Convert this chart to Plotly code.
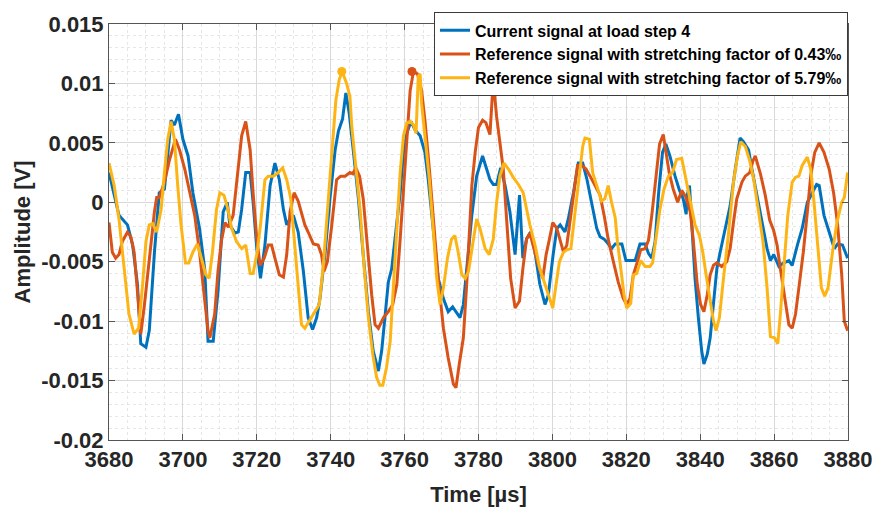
import numpy as np
import plotly.graph_objects as go

# Time axis samples [µs] and amplitudes [mV] for each signal
t_current = [3680, 3682.7, 3685, 3686.4, 3687.7, 3688.6, 3690, 3690.9, 3692.3, 3693.6, 3695, 3696.4, 3696.8, 3697.7,
             3698.8, 3700, 3701.4, 3702.7, 3704.5, 3705.9, 3706.8, 3708.2, 3709.5, 3710.9, 3712, 3712.7, 3714.1, 3715,
             3715.9, 3717, 3718.2, 3719, 3720, 3721, 3722.2, 3723.6, 3724.9, 3726.1, 3727.2, 3728.1, 3729, 3729.9,
             3731.2, 3732.6, 3733.9, 3735.1, 3736.2, 3737.1, 3738.5, 3739.8, 3741.2, 3742.1, 3743.2, 3744.1, 3745.0,
             3746.1, 3747.5, 3748.8, 3750.2, 3751.5, 3752.9, 3753.8, 3754.7, 3755.6, 3756.5, 3757.4, 3758.8, 3759.7,
             3760.6, 3761.7, 3762.8, 3764.2, 3765.5, 3766.4, 3767.8, 3769.1, 3770.5, 3771.8, 3773, 3774.1, 3775,
             3775.9, 3776.8, 3778.2, 3779.5, 3781.1, 3782.2, 3783.1, 3784, 3784.9, 3786, 3787.2, 3788.5, 3789.9,
             3791.1, 3792, 3793, 3794.1, 3795.3, 3796.6, 3798, 3798.9, 3800.2, 3801.2, 3802.1, 3803.4, 3804.3,
             3805.7, 3807, 3808.2, 3809.3, 3810.2, 3811.1, 3812, 3812.9, 3814, 3815.1, 3816, 3817, 3818.8, 3819.9,
             3822.4, 3823.7, 3825.1, 3826, 3826.9, 3827.8, 3828.7, 3829.8, 3830.7, 3831.8, 3833.2, 3834.4, 3835.4,
             3836.2, 3836.5, 3837.1, 3837.7, 3838.6, 3839.5, 3840.4, 3841, 3841.9, 3842.7, 3843.6, 3844.5, 3845.4,
             3846.7, 3848.1, 3849.5, 3850.8, 3851.7, 3853.1, 3854, 3855.4, 3856.7, 3858.1, 3859, 3859.9, 3861.3,
             3862.6, 3864, 3864.9, 3866.3, 3867.6, 3869, 3870.4, 3871.5, 3872.2, 3873.5, 3874.9, 3876.3, 3877.2,
             3878.5, 3879.9]
a_current = [2.5, -1.1, -1.9, -3.6, -6.9, -11.9, -12.2, -10.8, -4.2, 0.8, 1.1, 5.3, 6.9, 6.5,
             7.4, 5.3, 3.9, 0.8, -2.2, -5.6, -11.7, -11.7, -7.5, -0.8, 0, -1.9, -2.6, -2.5,
             -0.6, 2.5, 2.5, 0, -3.9, -6.4, -3.6, 1.4, 3.3, 1.9, -0.6, -1.9, -1.4, -1.1,
             -2.5, -5.8, -9.7, -10.7, -9.7, -8.1, -4.2, 0.3, 4.4, 6.0, 7.0, 9.2, 7.5,
             4.4, 0.3, -4.4, -9.2, -12.5, -14.2, -12.5, -9.7, -6.7, -5.6, -3.1, 0.8, 4.2,
             5.8, 6.8, 6.1, 5.6, 4.2, 1.9, -2.2, -6.4, -8.1, -9.2, -8.8, -9.3, -9.7,
             -8.6, -5.6, -1.1, 2.2, 3.9, 2.8, 1.9, 1.5, 1.5, 2.9, 1.4, -0.8, -4.4,
             0.6, -4.7, -3.1, -2.5, -4.2, -6.9, -8.6, -7.8, -4.4, -2.2, -1.9, -2.5, -1.4,
             0.8, 3.3, 3.3, 2.0, 0.5, -0.8, -2.2, -2.9, -3.1, -3.5, -3.9, -3.5, -3.5, -4.9,
             -4.9, -3.5, -3.5, -4.3, -4.7, -3.3, 0.6, 4.2, 4.9, 3.9, 2.2, 1.0, 0.3,
             -1.0, 0.6, 1.4, -1.7, -6.4, -9.7, -12.5, -13.6, -12.8, -11.4, -8.3, -5.6, -4.2,
             -2.2, -0.3, 2.8, 5.4, 5.1, 4.4, 2.8, 0.6, -1.7, -3.9, -4.9, -4.4, -5.4,
             -5.1, -4.9, -5.3, -3.6, -2.2, 0, 0.8, 1.5, 1.4, -1.1, -2.5, -3.9, -3.5,
             -3.6, -4.7]

t_ref_043 = [3680, 3680.9, 3681.8, 3682.7, 3683.6, 3685, 3685.9, 3686.8, 3687.7, 3688.6, 3689.6, 3690.9, 3692.3,
             3692.9, 3693.6, 3695, 3696.4, 3698, 3699.1, 3700.5, 3701.8, 3703.2, 3704.5, 3705.9, 3706.8, 3707.3,
             3708.6, 3709.5, 3710.4, 3711.4, 3712.3, 3713.6, 3715, 3715.9, 3717, 3718.2, 3719, 3720, 3720.9, 3722,
             3723.1, 3724, 3724.9, 3726.1, 3727.2, 3728.1, 3729, 3730.1, 3731.2, 3732.1, 3733, 3733.9, 3735.3,
             3736.6, 3737.5, 3738.2, 3739.1, 3740.3, 3741.6, 3742.7, 3743.9, 3745.2, 3746, 3746.8, 3747.8, 3748.8,
             3749.7, 3751.1, 3752, 3752.9, 3754.3, 3755.6, 3756.8, 3757.9, 3758.8, 3759.7, 3760.6, 3761.5, 3762.4,
             3763.5, 3764.6, 3765.5, 3766.7, 3767.8, 3769.1, 3770.5, 3771.8, 3773.2, 3773.9, 3774.8, 3775.9,
             3776.8, 3777.7, 3778.2, 3779.1, 3780, 3781.1, 3782, 3783.1, 3784, 3784.9, 3785.8, 3786.7, 3787.6,
             3788.7, 3789.9, 3791.1, 3792, 3793, 3793.9, 3795, 3796.2, 3797.4, 3798.3, 3799.2, 3800.1, 3801.2,
             3802.1, 3803, 3803.9, 3804.8, 3805.9, 3806.8, 3807.9, 3809.1, 3810.2, 3811.5, 3812.9, 3814, 3815.1,
             3816.5, 3817.8, 3819.2, 3820.1, 3821, 3821.9, 3823, 3823.9, 3825.1, 3826, 3826.9, 3827.8, 3829, 3830,
             3830.7, 3831.6, 3832.7, 3833.9, 3835, 3836.2, 3837.3, 3838.1, 3839.2, 3840.1, 3841, 3841.9, 3842.7,
             3843.6, 3844.5, 3845.8, 3847.2, 3848.1, 3849, 3849.9, 3851.3, 3852.2, 3853.4, 3854.3, 3854.9, 3856.3,
             3857.6, 3858.8, 3859.9, 3860.8, 3861.7, 3862.8, 3864, 3864.9, 3865.8, 3866.7, 3867.9, 3869, 3869.9,
             3871, 3872.2, 3873.5, 3874.9, 3876.1, 3877.2, 3878.3, 3879, 3879.9]
a_ref_043 = [-1.7, -4.2, -4.7, -4.4, -3.3, -2.5, -2.9, -4.2, -7.5, -11.1, -8.6, -4.7, -0.8,
             0.4, 0.4, 1.7, 3.6, 5.3, 4.4, 2.8, 0.8, -1.1, -4.2, -8.6, -10.8, -11.4,
             -9.4, -5.8, -3.3, -1.7, -2.1, -1.1, 3.3, 5.6, 6.8, 4.4, 0.8, -3.1, -5.3, -4.7,
             -3.6, -3.6, -4.7, -6.1, -6.3, -4.4, -0.8, 0.8, 0.1, -0.8, -1.9, -2.5, -3.5,
             -3.6, -4.4, -5.8, -5.0, -1.9, 1.9, 2.2, 2.2, 2.5, 2.4, 2.9, 2.2, 0.3,
             -3.1, -7.8, -10.3, -10.6, -9.7, -9.2, -8.6, -6.9, -3.1, 1.4, 5.6, 9.4, 11.0,
             10.8, 9.4, 6.9, 2.8, -1.4, -6.4, -10.6, -13.1, -15.3, -15.6, -13.6, -11.4,
             -6.9, -1.5, 1.4, 4.2, 6.3, 6.9, 6.7, 5.7, 10.3, 7.2, 5.0, 2.8, -1.4,
             -6.4, -8.9, -8.3, -5.6, -3.1, -2.6, -3.9, -5.3, -6.4, -4.4, -3.1, -1.7, -2.2,
             -3.2, -4.2, -3.6, -1.4, 0.8, 3.1, 3.1, 2.8, 2.2, 1.4, 0.6, -1.1, -3.1,
             -5.0, -6.7, -8.1, -8.6, -8.1, -6.1, -5.0, -4.0, -3.9, -3.2, -1.1, 1.7, 4.9, 5.7,
             4.4, 2.5, 1.1, 0, 1.0, 0.4, -0.8, -3.1, -6.9, -8.6, -9.2, -7.8, -6.1,
             -5.3, -5.1, -5.4, -5.0, -3.9, -1.7, 0.3, 1.7, 2.2, 2.5, 3.5, 3.9, 2.4,
             0.6, -1.5, -2.4, -3.6, -5.6, -7.8, -10.3, -10.6, -9.4, -7.2, -4.2, -0.8, 2.2,
             4.2, 5.0, 4.2, 2.8, 0.8, -1.9, -6.1, -10.0, -10.8]

t_ref_579 = [3680, 3681.4, 3682.7, 3684.1, 3685.4, 3686.8, 3688, 3689.1, 3690, 3690.9, 3691.8, 3692.9, 3694.1,
             3695, 3695.9, 3696.8, 3697.7, 3698.6, 3699.5, 3700.7, 3701.6, 3702.7, 3703.9, 3705, 3706.2, 3707.1,
             3708, 3709.1, 3710, 3711.1, 3712.2, 3713.2, 3714.5, 3715.9, 3717, 3718.2, 3719, 3720.1, 3721, 3722.2,
             3723.1, 3724.5, 3725.8, 3727, 3728.1, 3729.2, 3730.3, 3731.2, 3732.1, 3733, 3734.2, 3735.5, 3736.9,
             3738, 3739.1, 3740.3, 3741.4, 3742.3, 3743.1, 3744.3, 3745.2, 3745.7, 3746.9, 3748, 3749, 3750.2,
             3751.4, 3752.4, 3753.3, 3754.1, 3755.1, 3756.1, 3757, 3757.9, 3758.8, 3759.7, 3760.6, 3761.5, 3762.4,
             3763.1, 3763.7, 3764.2, 3764.6, 3765.5, 3766.7, 3767.8, 3768.7, 3769.6, 3770.5, 3771.6, 3772.7,
             3773.6, 3774.5, 3775.5, 3776.4, 3777.3, 3779.5, 3780.4, 3781.8, 3782.9, 3784, 3784.9, 3785.8, 3786.9,
             3788.1, 3789.4, 3790.8, 3792.1, 3793, 3793.9, 3795.3, 3796.6, 3798, 3799.2, 3800.1, 3801, 3801.9,
             3803, 3803.9, 3805, 3805.9, 3807, 3808.2, 3808.8, 3810, 3810.9, 3812, 3813.3, 3814.2, 3815.1,
             3816, 3817, 3817.6, 3818.5, 3819.4, 3820.1, 3821.2, 3821.9, 3822.8, 3823.9, 3825.1, 3826.4, 3827.1,
             3828, 3829.1, 3830.2, 3831.4, 3832.5, 3833.6, 3835, 3836.2, 3837.2, 3838.6, 3839.8, 3840.7, 3841.6,
             3842.7, 3843.6, 3844.3, 3845.2, 3846.3, 3847.6, 3849, 3850.1, 3851, 3852.2, 3853.4, 3854.5, 3855.8,
             3857, 3858.1, 3859, 3860.1, 3861, 3861.7, 3862.6, 3863.7, 3864.9, 3865.8, 3866.7, 3867.6, 3869,
             3869.9, 3870.8, 3871.7, 3872.8, 3873.7, 3874.6, 3875.8, 3877, 3878.3, 3879, 3879.9]
a_ref_579 = [3.3, 1.4, -1.4, -5.6, -9.4, -11.1, -10.6, -6.9, -3.3, -1.9, -1.8, -2.5, -0.6,
             2.5, 5.3, 6.8, 5.3, 1.4, -1.9, -5.1, -5.1, -4.2, -3.5, -4.7, -6.1, -6.4,
             -4.2, -0.6, 0.8, 0.6, -0.6, -2.2, -3.3, -3.9, -3.6, -6.0, -6.0, -4.2, -1.9, 1.9,
             2.2, 2.2, 2.5, 2.9, 1.9, 0.3, -3.6, -6.9, -10.3, -10.6, -10.0, -9.3, -8.6,
             -5.3, -0.6, 4.7, 8.6, 10.3, 11.0, 10.0, 8.9, 6.4, 2.8, -0.8, -5.3, -9.7,
             -12.8, -14.7, -15.4, -15.4, -13.9, -11.7, -6.9, -1.9, 2.5, 5.6, 6.7, 6.8, 6.5,
             5.8, 10.6, 10.8, 8.3, 5.6, 1.9, -2.5, -6.4, -8.6, -7.2, -4.7, -3.1,
             -2.8, -4.2, -6.1, -6.4, -5.8, -1.4, -2.2, -3.9, -4.4, -3.1, 0, 2.2, 3.3,
             2.8, 2.1, 1.5, 0.8, -0.6, -1.9, -3.6, -5.6, -6.9, -8.1, -8.9, -6.9, -5.0,
             -4.2, -4.0, -3.9, -1.4, 1.9, 4.7, 5.4, 5.3, 2.5, 1.4, 0.1, 0.3, 1.4,
             0, -1.3, -3.3, -5.8, -7.8, -8.9, -8.5, -6.1, -6.0, -4.9, -5.4, -5.4, -5.1,
             -3.1, -0.6, 1.1, 2.2, 2.5, 3.6, 3.7, 1.8, 0, -1.9, -2.8, -4.2, -6.1,
             -8.3, -10.0, -10.8, -9.7, -6.4, -2.8, 1.7, 3.9, 5.1, 4.7, 3.5, 1.9, -0.8,
             -3.3, -7.2, -11.3, -11.4, -11.9, -9.4, -5.3, -1.1, 1.7, 2.1, 2.2, 3.1, 3.8,
             2.8, 0, -3.3, -7.2, -7.9, -7.2, -4.2, -1.7, 0, 0.4, 2.5]

# Highlighted peaks of the two reference signals
peak_t_043, peak_a_043 = [3762], [11.0]
peak_t_579, peak_a_579 = [3743], [11.0]

names = ["Current signal at load step 4",
         "Reference signal with stretching factor of 0.43\u2030",
         "Reference signal with stretching factor of 5.79\u2030"]
colors = ["#0072BD", "#D95319", "#FDB515"]

x_ticks = list(range(3680, 3881, 20))
y_ticks = [-0.02, -0.015, -0.01, -0.005, 0, 0.005, 0.01, 0.015]
y_tick_text = ["-0.02", "-0.015", "-0.01", "-0.005", "0", "0.005", "0.01", "0.015"]

mv = 1e-3
fig = go.Figure()
for t, a, name, c in zip([t_current, t_ref_043, t_ref_579],
                         [a_current, a_ref_043, a_ref_579], names, colors):
    fig.add_trace(go.Scatter(x=t, y=np.array(a) * mv, mode="lines", name=name,
                             line=dict(color=c, width=3)))

for t, a, c in [(peak_t_043, peak_a_043, colors[1]), (peak_t_579, peak_a_579, colors[2])]:
    fig.add_trace(go.Scatter(x=t, y=np.array(a) * mv, mode="markers", showlegend=False,
                             marker=dict(color=c, size=9)))

family = "Liberation Sans, Arial, sans-serif"
fig.update_layout(
    width=875, height=510,
    margin=dict(l=109, r=27, t=20, b=70),
    paper_bgcolor="white", plot_bgcolor="white",
    font=dict(family=family, color="#262626"),
    legend=dict(x=1.0, y=1.028, xanchor="right", yanchor="top",
                bgcolor="white", bordercolor="#3a3a3a", borderwidth=1,
                font=dict(size=16, family=family, color="black", weight="bold"),
                tracegroupgap=0, itemwidth=30),
    xaxis=dict(range=[3680, 3880], tickvals=x_ticks, ticks="inside", ticklen=6,
               tickcolor="#555555", showline=True, linecolor="#555555", linewidth=1,
               mirror="ticks", showgrid=True, gridcolor="#d9d9d9", gridwidth=1,
               automargin=False,
               tickfont=dict(size=22, weight="bold", family=family),
               title=dict(text="Time [\u00b5s]", font=dict(size=22, weight="bold")),
               minor=dict(dtick=5, showgrid=True, gridcolor="#e6e6e6", griddash="dot", ticks=""),
               zeroline=False),
    yaxis=dict(range=[-0.02, 0.015], tickvals=y_ticks, ticktext=y_tick_text, ticks="inside",
               ticklen=6, tickcolor="#555555", showline=True, linecolor="#555555", linewidth=1,
               mirror="ticks", showgrid=True, gridcolor="#d9d9d9", gridwidth=1,
               automargin="left",
               tickfont=dict(size=22, weight="bold", family=family),
               title=dict(text="Amplitude [V]", font=dict(size=22, weight="bold"), standoff=4),
               minor=dict(dtick=0.001, showgrid=True, gridcolor="#e6e6e6", griddash="dot", ticks=""),
               zeroline=False),
)

fig.write_html("out.html")
